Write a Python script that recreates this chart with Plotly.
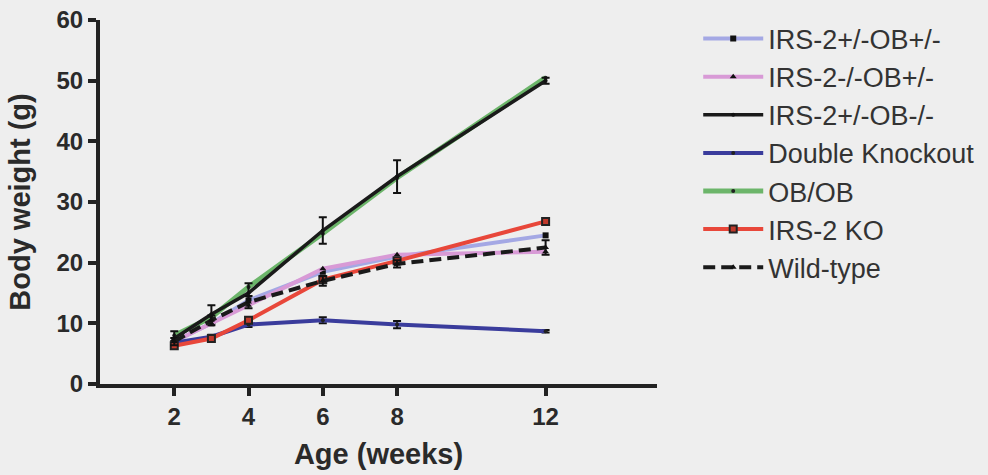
import plotly.graph_objects as go

weeks = [2, 3, 4, 6, 8, 12]

irs2het_obhet = [7.0, 10.0, 13.8, 18.5, 21.0, 24.5]
irs2ko_obhet = [7.0, 10.0, 13.0, 19.0, 21.3, 21.8]
irs2het_obko = [7.5, 11.5, 15.0, 25.3, 34.2, 50.0]
double_ko = [6.8, 7.8, 9.8, 10.5, 9.8, 8.7]
ob_ob = [8.0, 11.0, 16.0, 24.8, 34.0, 50.5]
irs2_ko = [6.3, 7.5, 10.5, 17.2, 20.3, 26.8]
wild_type = [7.0, 10.5, 13.5, 17.0, 19.8, 22.5]

err_black = [1.2, 1.5, 1.6, 2.2, 2.7, 0.5]
err_wt = [0.6, 0.8, 1.0, 0.8, 0.6, 1.2]
err_dko = [0.3, 0.3, 0.4, 0.5, 0.6, 0.2]

series = [
    # name, values, color, dash, marker symbol, marker color, error, legendrank, width
    ("OB/OB", ob_ob, "#6cb56a", "solid", "circle", "#222222", None, 5, 5),
    ("IRS-2+/-OB-/-", irs2het_obko, "#1a1a1a", "solid", "circle", "#111111", err_black, 3, 3.5),
    ("IRS-2+/-OB+/-", irs2het_obhet, "#a4a8e4", "solid", "square", "#111111", None, 1, 4),
    ("IRS-2-/-OB+/-", irs2ko_obhet, "#d89ad6", "solid", "triangle-up", "#111111", None, 2, 4),
    ("Double Knockout", double_ko, "#3a3c9c", "solid", "circle", "#222222", err_dko, 4, 4),
    ("IRS-2 KO", irs2_ko, "#e8473a", "solid", "square", "#222222", None, 6, 4),
    ("Wild-type", wild_type, "#1a1a1a", "dash", "triangle-up", "#111111", err_wt, 7, 4),
]

fig = go.Figure()
for name, vals, color, dash, sym, mcol, err, rank, w in series:
    size = 6 if sym != "circle" else 4
    marker = dict(symbol=sym, size=size, color=mcol)
    if name == "IRS-2 KO":
        marker = dict(symbol="square", size=7, color="#c0392b",
                      line=dict(color="#222222", width=2))
    tr = go.Scatter(
        x=weeks, y=vals, name=name, mode="lines+markers",
        line=dict(color=color, width=w, dash=dash if dash == "solid" else "12px,6px"),
        marker=marker, legendrank=rank, legendgroup=name,
    )
    if err is not None:
        tr.error_y = dict(type="data", array=err, visible=True,
                          color="#111111", thickness=2, width=4)
    fig.add_trace(tr)

FAM = "Liberation Sans, Arial"
tickfont = dict(family=FAM, size=24, color="#2a2a2a", weight="bold")
titlefont = dict(family=FAM, size=29, color="#2a2a2a")
fig.update_layout(
    width=988, height=475,
    margin=dict(l=100, r=331, t=20, b=91, autoexpand=False),
    paper_bgcolor="#eeeeee", plot_bgcolor="#eeeeee",
    showlegend=True,
    legend=dict(x=1.074, y=1.015, xanchor="left", yanchor="top",
                font=dict(family=FAM, size=27, color="#333333"),
                itemwidth=60, tracegroupgap=0, maxheight=440,
                bgcolor="rgba(0,0,0,0)"),
    xaxis=dict(range=[0, 15], tickvals=[2, 4, 6, 8, 12], ticktext=["2", "4", "6", "8", "12"],
               showgrid=False, zeroline=False, showline=True, linecolor="#222222", linewidth=4,
               ticks="outside", ticklen=8, tickwidth=4, tickcolor="#222222",
               tickfont=tickfont,
               title=dict(text="<b>Age (weeks)</b>", font=titlefont, standoff=16)),
    yaxis=dict(range=[0, 60], tickvals=[0, 10, 20, 30, 40, 50, 60],
               showgrid=False, zeroline=False, showline=True, linecolor="#222222", linewidth=4,
               ticks="outside", ticklen=8, tickwidth=4, tickcolor="#222222",
               tickfont=tickfont,
               title=dict(text="<b>Body weight (g)</b>", font=titlefont, standoff=18)),
)

fig.write_html("out.html", config={"displayModeBar": False})
with open("out.html", encoding="utf-8") as f:
    html = f.read()
html = html.replace("<body>", '<body style="margin:0;background:#eeeeee">', 1)
with open("out.html", "w", encoding="utf-8") as f:
    f.write(html)
